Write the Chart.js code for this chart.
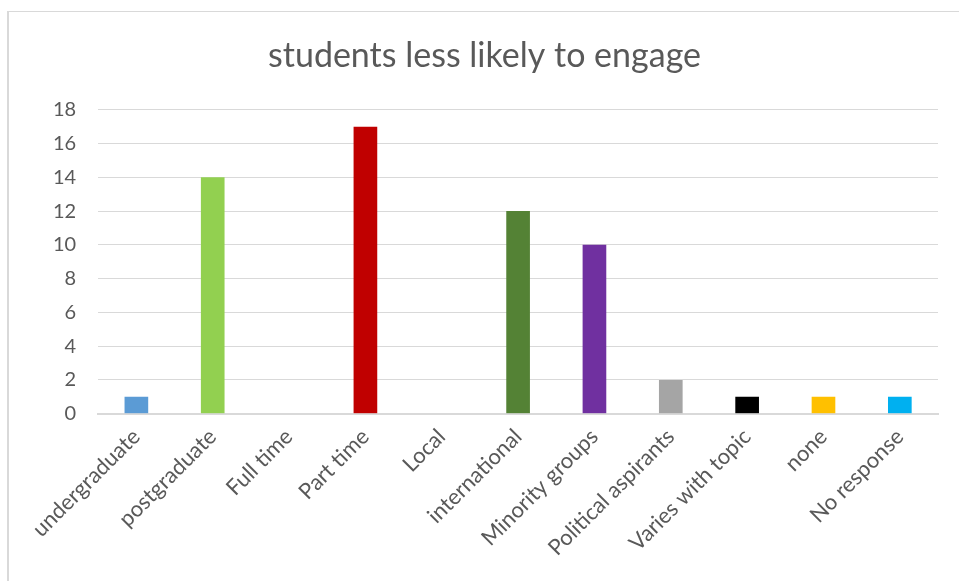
<!DOCTYPE html>
<html>
<head>
<meta charset="utf-8">
<script src="https://cdn.jsdelivr.net/npm/chart.js@4.4.0/dist/chart.umd.min.js"></script>
<style>
  html, body { margin: 0; padding: 0; background: #fff; }
  #marco {
    position: absolute; left: 7px; top: 11px; width: 960px; height: 580px;
    border-left: 2px solid #d9d9d9; border-top: 1px solid #d9d9d9;
  }
  #contenedor { position: absolute; left: 0; top: 0; width: 959px; height: 581px; }
</style>
</head>
<body>
<div id="marco"></div>
<div id="contenedor"><canvas id="grafico" width="959" height="581"></canvas></div>
<script>
// Datos del gráfico
const categorias = ['undergraduate', 'postgraduate', 'Full time', 'Part time', 'Local',
  'international', 'Minority groups', 'Political aspirants', 'Varies with topic', 'none', 'No response'];
const valores = [1, 14, 0, 17, 0, 12, 10, 2, 1, 1, 1];
const colores = ['#5b9bd5', '#92d050', '#70ad47', '#c00000', '#ffc000',
  '#548235', '#7030a0', '#a5a5a5', '#000000', '#ffc000', '#00b0f0'];
const titulo = 'students less likely to engage';

const fuente = "Lato, 'Open Sans', sans-serif";
const gris = '#595959';

const ctx = document.getElementById('grafico').getContext('2d');
new Chart(ctx, {
  type: 'bar',
  data: {
    labels: categorias,
    datasets: [{
      data: valores,
      backgroundColor: colores,
      borderWidth: 0,
      barPercentage: 0.31,
      categoryPercentage: 1
    }]
  },
  options: {
    responsive: false,
    animation: false,
    layout: { padding: { left: 31, right: 21, top: 36, bottom: 10 } },
    plugins: {
      legend: { display: false },
      tooltip: { enabled: false },
      title: {
        display: true,
        text: titulo,
        color: gris,
        font: { family: fuente, size: 34, weight: 'normal' },
        padding: { top: 0, bottom: 33 }
      }
    },
    scales: {
      x: {
        grid: { display: false, drawTicks: false },
        border: { color: '#d9d9d9', width: 2 },
        ticks: {
          color: gris,
          font: { family: fuente, size: 22 },
          maxRotation: 45,
          minRotation: 45,
          autoSkip: false,
          padding: 10
        }
      },
      y: {
        min: 0,
        max: 18,
        grid: { color: '#d9d9d9', lineWidth: 1, drawTicks: false },
        border: { display: false },
        ticks: {
          stepSize: 2,
          color: gris,
          font: { family: fuente, size: 20 },
          padding: 22
        }
      }
    }
  }
});
</script>
</body>
</html>
